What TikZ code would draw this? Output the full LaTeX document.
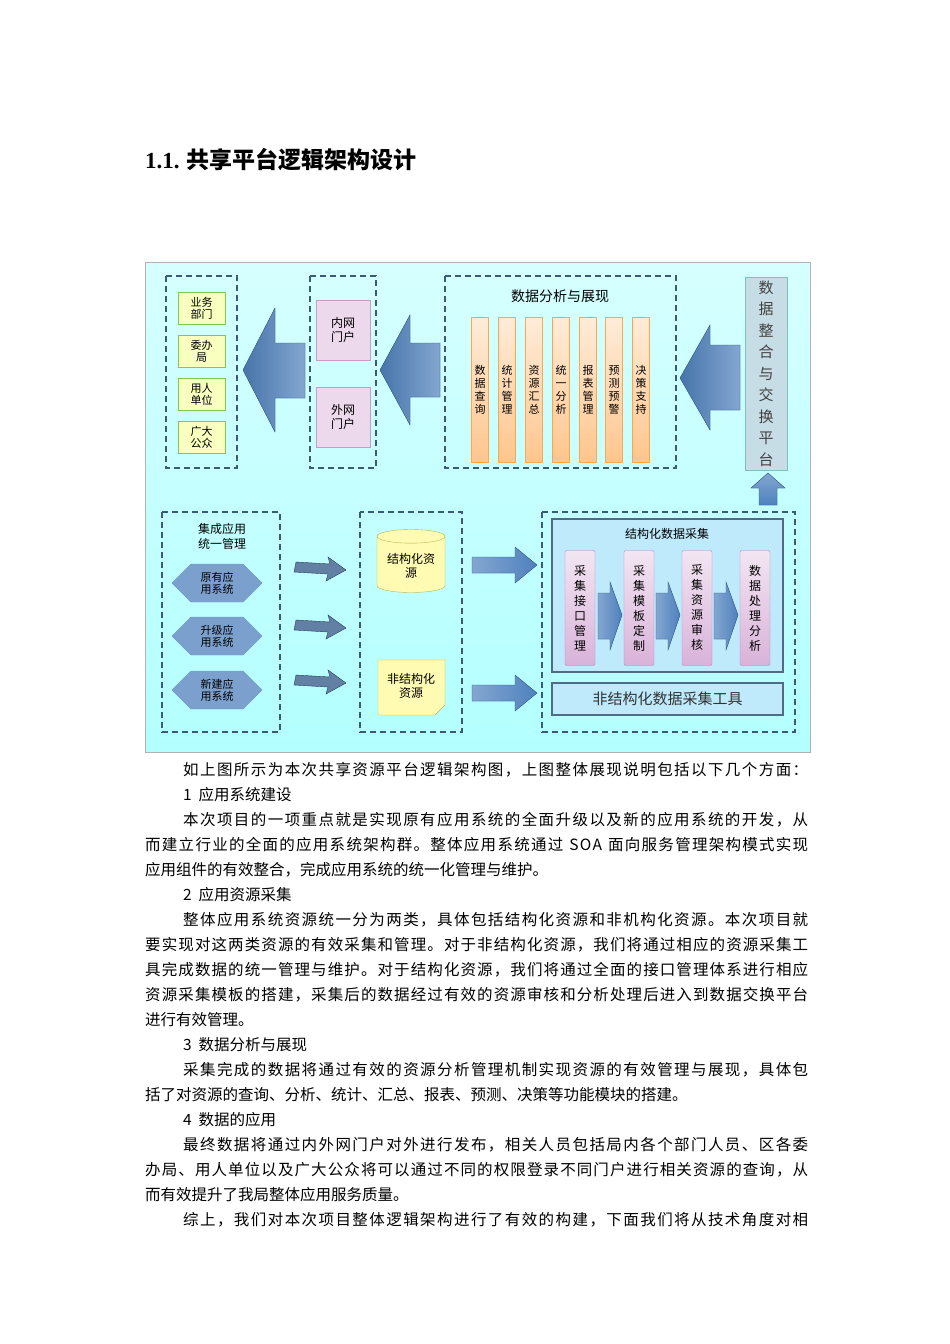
\documentclass[tikz,border=0pt]{standalone}
\usepackage{fontspec}
\setmainfont{Noto Sans CJK SC}
\newfontfamily\serif{Liberation Serif}
\usetikzlibrary{shapes.geometric,shapes.symbols,arrows.meta}
\definecolor{bigarrow}{HTML}{4F81BD}
\definecolor{dash}{HTML}{3B5A78}
\tikzset{
 dbox/.style={draw=dash,dashed,line width=1.6pt,dash pattern=on 6pt off 4pt},
 gbox/.style={draw=green!40!olive!70,fill=green!10!yellow!25,line width=0.5pt,minimum width=47pt,minimum height=32pt,align=center,font=\fontsize{11}{12}\selectfont,inner sep=1pt},
 pbox/.style={draw=violet!40,fill=violet!15,minimum width=54pt,minimum height=60pt,align=center,font=\fontsize{12}{14}\selectfont},
 obar/.style={draw=orange!70,top color=orange!15,bottom color=orange!45,minimum width=17pt,minimum height=145pt,align=center,font=\fontsize{11}{13}\selectfont,inner sep=0pt},
 vbar/.style={draw=violet!50,top color=violet!10,bottom color=violet!30,rounded corners=2pt,minimum width=30pt,minimum height=115pt,align=center,font=\fontsize{12}{15}\selectfont,inner sep=0pt},
 hexa/.style={signal,signal to=west and east,draw=bigarrow!80,fill=bigarrow!75,minimum width=90pt,minimum height=38pt,align=center,font=\fontsize{11}{12}\selectfont,inner sep=1pt},
 bshape/.style={fill=bigarrow,draw=bigarrow!70!black,line width=0.4pt},
 txt/.style={anchor=west,inner sep=0pt,font=\fontsize{15.5}{16}\selectfont},
}
\def\spreadchars#1{\ifx#1\relax\else#1\hfil\expandafter\spreadchars\fi}
\newcommand{\fl}[1]{\hbox to 663pt{\spreadchars#1\relax\unskip}}
\newcommand{\fli}[1]{\hbox to 625pt{\spreadchars#1\relax\unskip}}
\begin{document}
\begin{tikzpicture}[x=1pt,y=-1pt]
\useasboundingbox (0,0) rectangle (950,1344);
\fill[white] (0,0) rectangle (950,1344);
% heading
\node[anchor=west,inner sep=0pt,font=\fontsize{23}{24}\selectfont\bfseries] (h) at (145,160) {{\serif 1.1.} 共享平台逻辑架构设计};
% frame
\draw[gray!60,top color=cyan!16,bottom color=cyan!30,line width=0.8pt] (145,262) rectangle (810,752);
% top left
\draw[dbox] (166,276) rectangle (237,468);
\node[gbox] (a1) at (201.5,308) {业务\\部门};
\node[gbox] (a2) at (201.5,351) {委办\\局};
\node[gbox] (a3) at (201.5,394) {用人\\单位};
\node[gbox] (a4) at (201.5,437) {广大\\公众};
\fill[bshape,left color=bigarrow!90!black,right color=bigarrow!70] (243,370) -- (275,308) -- (275,343) -- (305,343) -- (305,398) -- (275,398) -- (275,432) -- cycle;
\draw[dbox] (310,276) rectangle (376,468);
\node[pbox] (p1) at (343,330) {内网\\门户};
\node[pbox] (p2) at (343,417) {外网\\门户};
\fill[bshape,left color=bigarrow!90!black,right color=bigarrow!70] (380,370) -- (410,315) -- (410,343) -- (440,343) -- (440,397) -- (410,397) -- (410,425) -- cycle;
\draw[dbox] (445,276) rectangle (676,468);
\node[font=\fontsize{14}{15}\selectfont] (t1) at (560,296) {数据分析与展现};
\foreach \x/\t in {480/数\\据\\查\\询,507/统\\计\\管\\理,534/资\\源\\汇\\总,561/统\\一\\分\\析,588/报\\表\\管\\理,614/预\\测\\预\\警,641/决\\策\\支\\持}
 \node[obar] at (\x,390) {\t};
\fill[bshape,left color=bigarrow!90!black,right color=bigarrow!70] (680,378) -- (710,325) -- (710,345) -- (740,345) -- (740,410) -- (710,410) -- (710,430) -- cycle;
\node[draw=teal!50,fill=cyan!18!teal!25,minimum width=42pt,minimum height=193pt,align=center,font=\fontsize{15}{21.5}\selectfont,text=black!75,inner sep=0pt] (plat) at (766,373.5) {数\\据\\整\\合\\与\\交\\换\\平\\台};
\fill[bshape,top color=bigarrow!70,bottom color=bigarrow] (768,473) -- (785,488) -- (777,488) -- (777,505) -- (759,505) -- (759,488) -- (751,488) -- cycle;
% bottom left
\draw[dbox] (162,512) rectangle (280,732);
\node[align=center,font=\fontsize{12}{15}\selectfont] (t2) at (222,536) {集成应用\\统一管理};
\node[hexa] (h1) at (217,583) {原有应\\用系统};
\node[hexa] (h2) at (217,636) {升级应\\用系统};
\node[hexa] (h3) at (217,690) {新建应\\用系统};
\foreach \y in {567,625,680}
 \fill[bshape,fill=bigarrow!60!gray,draw=bigarrow!50!black] (296,\y-5) -- (330,\y-3) -- (328,\y-10) -- (346,\y+3) -- (326,\y+14) -- (328,\y+7) -- (294,\y+5) -- cycle;
\draw[dbox] (360,512) rectangle (462,732);
\node[cylinder,shape border rotate=90,aspect=0.25,draw=olive!60,fill=yellow!30,minimum width=68pt,minimum height=63pt,align=center,font=\fontsize{12}{14}\selectfont] (cyl) at (411,566) {结构化资\\源};
\fill[draw=olive!60,fill=yellow!30] (378,660) -- (445,660) -- (445,705) -- (435,715) -- (378,715) -- cycle;
\node[align=center,font=\fontsize{12}{14}\selectfont] (uns) at (411,686) {非结构化\\资源};
\foreach \y in {565,693}
 \fill[bshape,left color=bigarrow!70,right color=bigarrow] (472,\y-8) -- (515,\y-8) -- (515,\y-18) -- (537,\y) -- (515,\y+18) -- (515,\y+8) -- (472,\y+8) -- cycle;
\draw[dbox] (542,512) rectangle (795,732);
\draw[draw=dash!90,fill=cyan!25,line width=1.4pt] (552,519) rectangle (783,672);
\node[font=\fontsize{12}{14}\selectfont] (t3) at (667,534) {结构化数据采集};
\node[vbar] (s1) at (580,608) {采\\集\\接\\口\\管\\理};
\node[vbar] (s2) at (639,608) {采\\集\\模\\板\\定\\制};
\node[vbar] (s3) at (697,608) {采\\集\\资\\源\\审\\核};
\node[vbar] (s4) at (755,608) {数\\据\\处\\理\\分\\析};
\foreach \x in {598,656,714}
 \fill[bshape,left color=bigarrow!70,right color=bigarrow] (\x,593) -- (\x+12,593) -- (\x+12,582) -- (\x+24,615) -- (\x+12,650) -- (\x+12,639) -- (\x,639) -- cycle;
\node[draw=dash!90,fill=cyan!25,line width=1.4pt,minimum width=231pt,minimum height=32pt,font=\fontsize{15}{16}\selectfont,text=black!80] (tool) at (667.5,699) {非结构化数据采集工具};
% body text
\node[txt] at (183,770) {\fli{如上图所示为本次共享资源平台逻辑架构图，上图整体展现说明包括以下几个方面：}};
\node[txt] at (183,795) {1\ \ 应用系统建设};
\node[txt] at (183,820) {\fli{本次项目的一项重点就是实现原有应用系统的全面升级以及新的应用系统的开发，从}};
\node[txt] at (145,845) {\fl{而建立行业的全面的应用系统架构群。整体应用系统通过{\ }S{O}A{\ }面向服务管理架构模式实现}};
\node[txt] at (145,870) {应用组件的有效整合，完成应用系统的统一化管理与维护。};
\node[txt] at (183,895) {2\ \ 应用资源采集};
\node[txt] at (183,920) {\fli{整体应用系统资源统一分为两类，具体包括结构化资源和非机构化资源。本次项目就}};
\node[txt] at (145,945) {\fl{要实现对这两类资源的有效采集和管理。对于非结构化资源，我们将通过相应的资源采集工}};
\node[txt] at (145,970) {\fl{具完成数据的统一管理与维护。对于结构化资源，我们将通过全面的接口管理体系进行相应}};
\node[txt] at (145,995) {\fl{资源采集模板的搭建，采集后的数据经过有效的资源审核和分析处理后进入到数据交换平台}};
\node[txt] at (145,1020) {进行有效管理。};
\node[txt] at (183,1045) {3\ \ 数据分析与展现};
\node[txt] at (183,1070) {\fli{采集完成的数据将通过有效的资源分析管理机制实现资源的有效管理与展现，具体包}};
\node[txt] at (145,1095) {括了对资源的查询、分析、统计、汇总、报表、预测、决策等功能模块的搭建。};
\node[txt] at (183,1120) {4\ \ 数据的应用};
\node[txt] at (183,1145) {\fli{最终数据将通过内外网门户对外进行发布，相关人员包括局内各个部门人员、区各委}};
\node[txt] at (145,1170) {\fl{办局、用人单位以及广大公众将可以通过不同的权限登录不同门户进行相关资源的查询，从}};
\node[txt] at (145,1195) {而有效提升了我局整体应用服务质量。};
\node[txt] at (183,1220) {\fli{综上，我们对本次项目整体逻辑架构进行了有效的构建，下面我们将从技术角度对相}};
\end{tikzpicture}
\end{document}
